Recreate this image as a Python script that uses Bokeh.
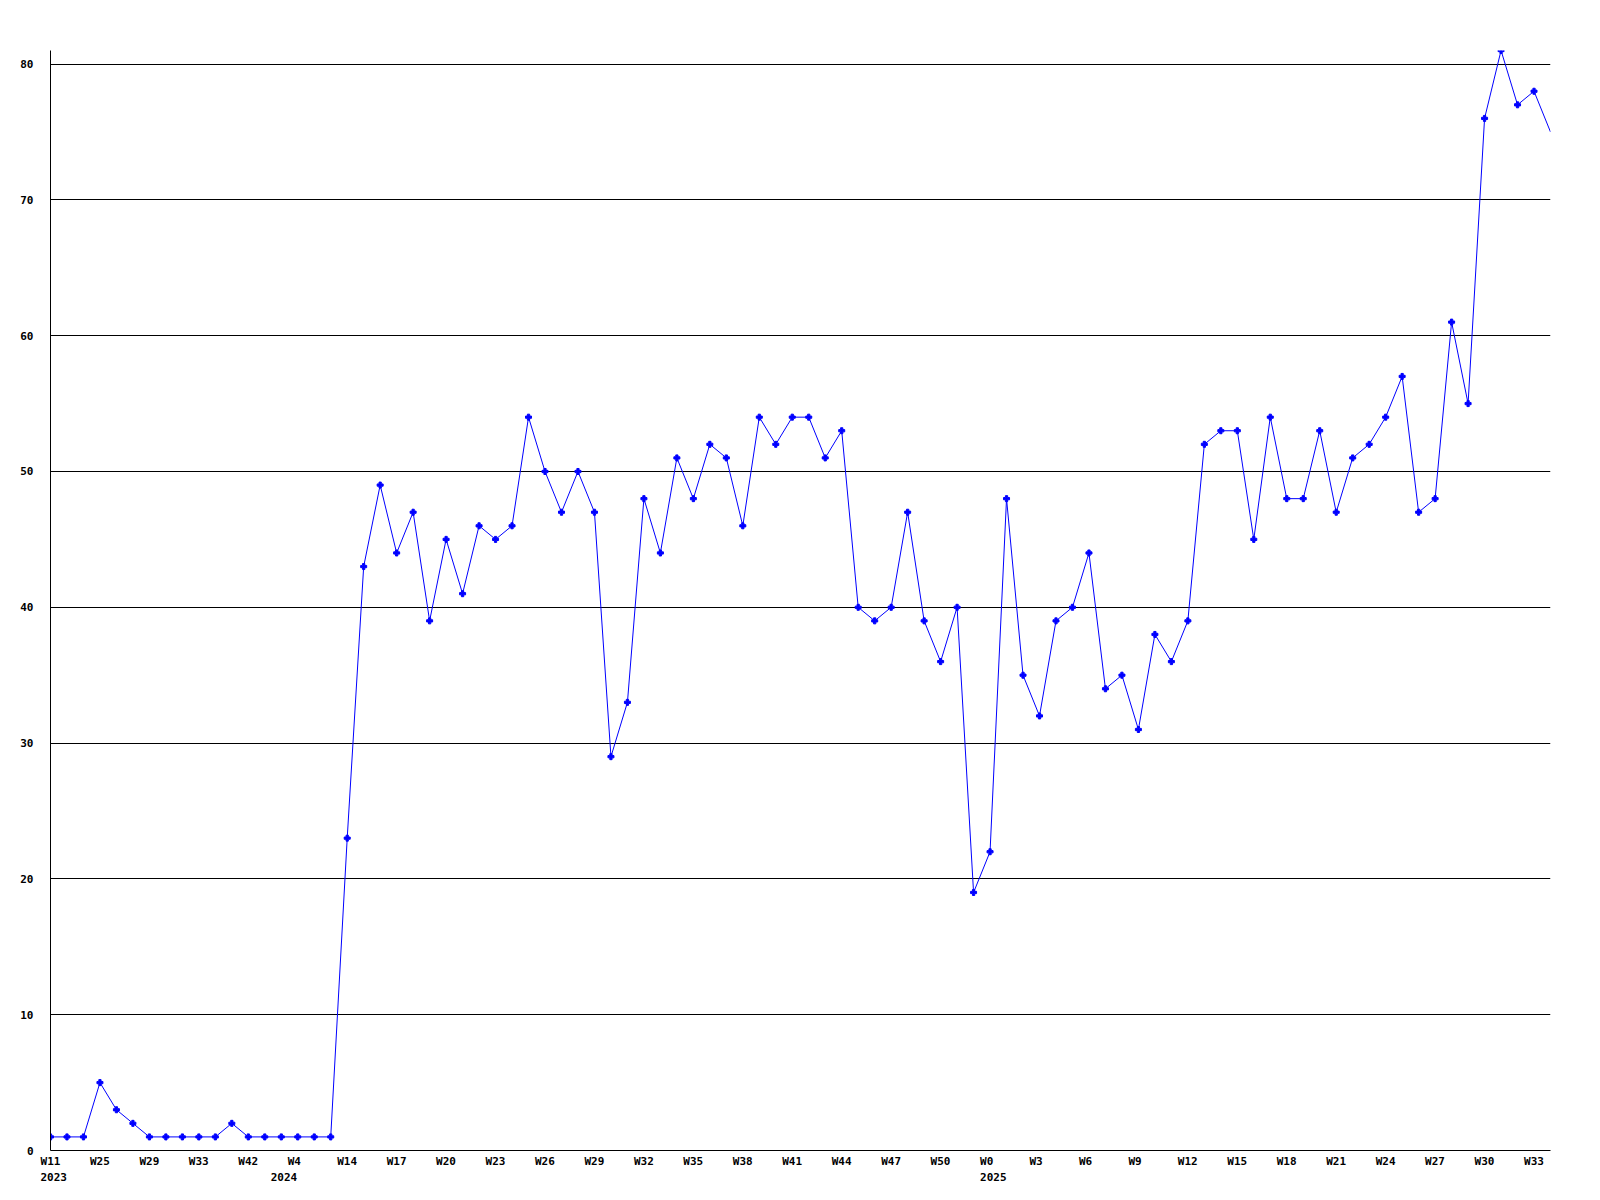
from bokeh.plotting import figure
from bokeh.models import Range1d, FixedTicker, LinearAxis, ColumnDataSource, CDSView, IndexFilter
from bokeh.embed import file_html
from bokeh.resources import INLINE

# ---- data ----
values = [1, 1, 1, 5, 3, 2, 1, 1, 1, 1, 1, 2, 1, 1, 1, 1, 1, 1,
          23, 43, 49, 44, 47, 39, 45, 41, 46, 45, 46, 54,
          50, 47, 50, 47, 29, 33, 48, 44, 51, 48, 52, 51,
          46, 54, 52, 54, 54, 51, 53, 40, 39, 40, 47, 39,
          36, 40, 19, 22, 48, 35, 32, 39, 40, 44, 34, 35,
          31, 38, 36, 39, 52, 53, 53, 45, 54, 48, 48, 53,
          47, 51, 52, 54, 57, 47, 48, 61, 55, 76, 81, 77, 78, 75]
week_labels = ["W11", "W25", "W29", "W33", "W42", "W4", "W14", "W17", "W20", "W23",
               "W26", "W29", "W32", "W35", "W38", "W41", "W44", "W47", "W50", "W0",
               "W3", "W6", "W9", "W12", "W15", "W18", "W21", "W24", "W27", "W30", "W33"]
year_labels = ["2023", "2024", "2025"]
year_label_index = [0, 5, 19]
y_ticks = [0, 10, 20, 30, 40, 50, 60, 70, 80]

x = list(range(len(values)))
src = ColumnDataSource(dict(x=x, y=values))

FONT = "DejaVu Sans Mono"
FRAME_W = 1500
X_END = len(values) - 1
PX_PER_UNIT = FRAME_W / X_END
CHAR_W = 6.62
LABEL_EVERY = 3
LABEL_LEFT_OFFSET_PX = -10.0

def label_center(pos, text, nudge_px=0.0):
    c = pos + (LABEL_LEFT_OFFSET_PX + nudge_px + len(text) * CHAR_W / 2) / PX_PER_UNIT
    return round(max(0.0, c), 3)

week_ticks = [label_center(k * LABEL_EVERY, lab) for k, lab in enumerate(week_labels)]

year_nudge_px = [0.0, -17.0, 0.0]
year_ticks = [label_center(k * LABEL_EVERY, lab, nd)
              for lab, k, nd in zip(year_labels, year_label_index, year_nudge_px)]

p = figure(width=1592, height=1190, output_backend="svg", toolbar_location=None,
           x_range=Range1d(0, X_END), y_range=Range1d(0, 81),
           min_border_left=50, min_border_top=50, min_border_right=42, min_border_bottom=40)
p.outline_line_color = None
p.background_fill_color = "white"
p.border_fill_color = "white"

p.xgrid.grid_line_color = None
p.ygrid.grid_line_color = "black"
p.ygrid.grid_line_width = 1
p.ygrid.ticker = FixedTicker(ticks=y_ticks)

# y axis
ya = p.yaxis[0]
ya.ticker = FixedTicker(ticks=y_ticks)
ya.axis_line_color = "black"
ya.major_tick_line_color = None
ya.minor_tick_line_color = None
ya.major_tick_out = 0
ya.major_tick_in = 0
ya.major_label_standoff = 17
ya.major_label_text_font = FONT
ya.major_label_text_font_style = "bold"
ya.major_label_text_font_size = "11px"
ya.major_label_text_color = "black"

# x axis (weeks)
xa = p.xaxis[0]
xa.ticker = FixedTicker(ticks=week_ticks)
xa.major_label_overrides = {t: l for t, l in zip(week_ticks, week_labels)}
xa.axis_line_color = "black"
xa.major_tick_line_color = None
xa.minor_tick_line_color = None
xa.major_tick_out = 0
xa.major_tick_in = 0
xa.major_label_standoff = 4
xa.major_label_text_font = FONT
xa.major_label_text_font_style = "bold"
xa.major_label_text_font_size = "11px"
xa.major_label_text_color = "black"

# second x axis (years)
xa2 = LinearAxis(ticker=FixedTicker(ticks=year_ticks),
                 major_label_overrides={t: l for t, l in zip(year_ticks, year_labels)})
xa2.axis_line_color = None
xa2.major_tick_line_color = None
xa2.minor_tick_line_color = None
xa2.major_tick_out = 0
xa2.major_tick_in = 0
xa2.major_label_standoff = 2
xa2.major_label_text_font = FONT
xa2.major_label_text_font_style = "bold"
xa2.major_label_text_font_size = "11px"
xa2.major_label_text_color = "black"
p.add_layout(xa2, "below")

p.line("x", "y", source=src, line_color="#0000FF", line_width=1)
view = CDSView(filter=IndexFilter(list(range(len(values) - 1))))
p.scatter("x", "y", source=src, view=view, marker="plus", size=6,
          fill_color="#0000FF", line_color="#0000FF")

open("out.html", "w").write(file_html(p, INLINE))
